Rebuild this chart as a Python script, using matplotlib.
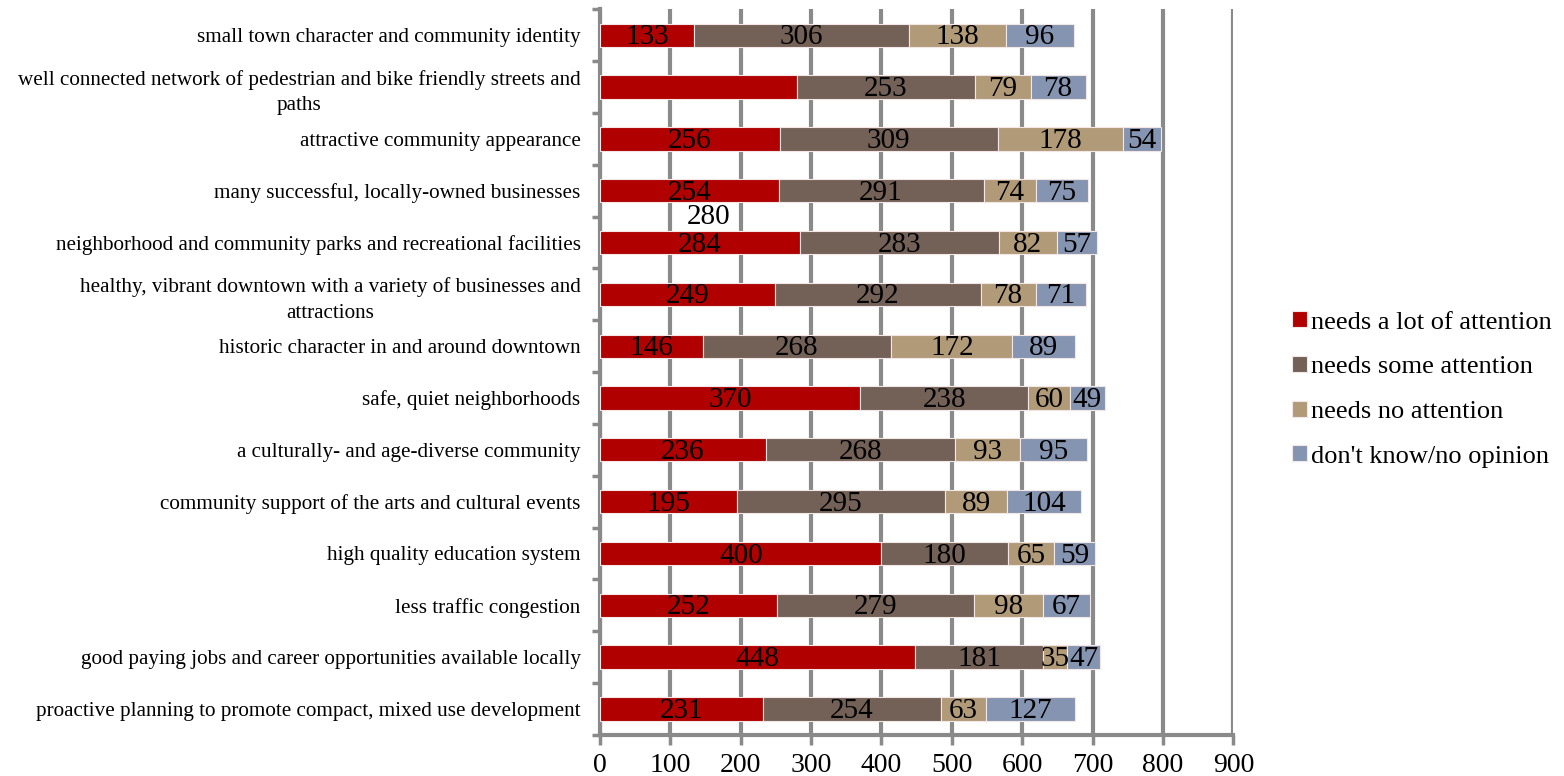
import matplotlib
matplotlib.use("Agg")
import matplotlib.pyplot as plt
import numpy as np

categories = [
    "small town character and community identity",
    "well connected network of pedestrian and bike friendly streets and\npaths",
    "attractive community appearance",
    "many successful, locally-owned businesses",
    "neighborhood and community parks and recreational facilities",
    "healthy, vibrant downtown with a variety of businesses and\nattractions",
    "historic character in and around downtown",
    "safe, quiet neighborhoods",
    "a culturally- and age-diverse community",
    "community support of the arts and cultural events",
    "high quality education system",
    "less traffic congestion",
    "good paying jobs and career opportunities available locally",
    "proactive planning to promote compact, mixed use development",
]
series_names = ["needs a lot of attention", "needs some attention",
                "needs no attention", "don't know/no opinion"]
lot = [133, 280, 256, 254, 284, 249, 146, 370, 236, 195, 400, 252, 448, 231]
some = [306, 253, 309, 291, 283, 292, 268, 238, 268, 295, 180, 279, 181, 254]
none_ = [138, 79, 178, 74, 82, 78, 172, 60, 93, 89, 65, 98, 35, 63]
dk = [96, 78, 54, 75, 57, 71, 89, 49, 95, 104, 59, 67, 47, 127]
xticks = [0, 100, 200, 300, 400, 500, 600, 700, 800, 900]

colors = ["#B00000", "#736157", "#B09A78", "#8594B0"]
serif = ["Liberation Serif", "DejaVu Serif"]
plt.rcParams["font.family"] = serif

fig = plt.figure(figsize=(15.64, 7.76), dpi=100)
ax = fig.add_axes([0.3836, 0.053, 0.405, 0.935])

y = np.arange(len(categories))
data = [lot, some, none_, dk]
left = np.zeros(len(categories))
bh = 0.45
for vals, col, name in zip(data, colors, series_names):
    vals = np.array(vals, dtype=float)
    ax.barh(y, vals, left=left, height=bh, color=col, edgecolor="#f2e6e6",
            linewidth=0.8, label=name, zorder=3)
    for i, (l, v) in enumerate(zip(left, vals)):
        if name == series_names[0] and i == 1:
            continue  # label displaced in original
        ax.text(l + v / 2, y[i] + 0.04, f"{int(v)}", ha="center", va="center",
                fontsize=21, color="black", zorder=4)
    left += vals

# displaced label of the "well connected" red segment
ax.text(154, 4 - 0.5, f"{lot[1]}", ha="center", va="center", fontsize=21,
        color="black", zorder=4)

ax.set_xlim(0, 900)
ax.set_ylim(len(categories) - 0.5, -0.5)
ax.set_xticks(xticks)
ax.set_xticklabels([str(t) for t in xticks], fontsize=20)
ax.set_yticks(y)
ax.set_yticklabels(categories, fontsize=15.2, ha="right", multialignment="center",
                   linespacing=1.45)
ax.tick_params(axis="y", length=0, pad=14)
ax.set_yticks(np.arange(-0.5, len(categories), 1), minor=True)
ax.tick_params(axis="y", which="minor", length=6, width=2.5, color="#8a8a8a")
ax.tick_params(axis="x", length=7, width=2.5, color="#8a8a8a", pad=6)

ax.grid(axis="x", color="#8a8a8a", linewidth=3, zorder=0)
ax.set_axisbelow(True)
for s in ["top", "right"]:
    ax.spines[s].set_visible(False)
for s in ["left", "bottom"]:
    ax.spines[s].set_color("#8a8a8a")
    ax.spines[s].set_linewidth(3)

leg = fig.legend(loc="center left", bbox_to_anchor=(0.8195, 0.498), frameon=False,
                 fontsize=19, handlelength=0.55, handleheight=0.55,
                 handletextpad=0.15, labelspacing=0.85, borderaxespad=0)

fig.savefig("out.png", dpi=100)
